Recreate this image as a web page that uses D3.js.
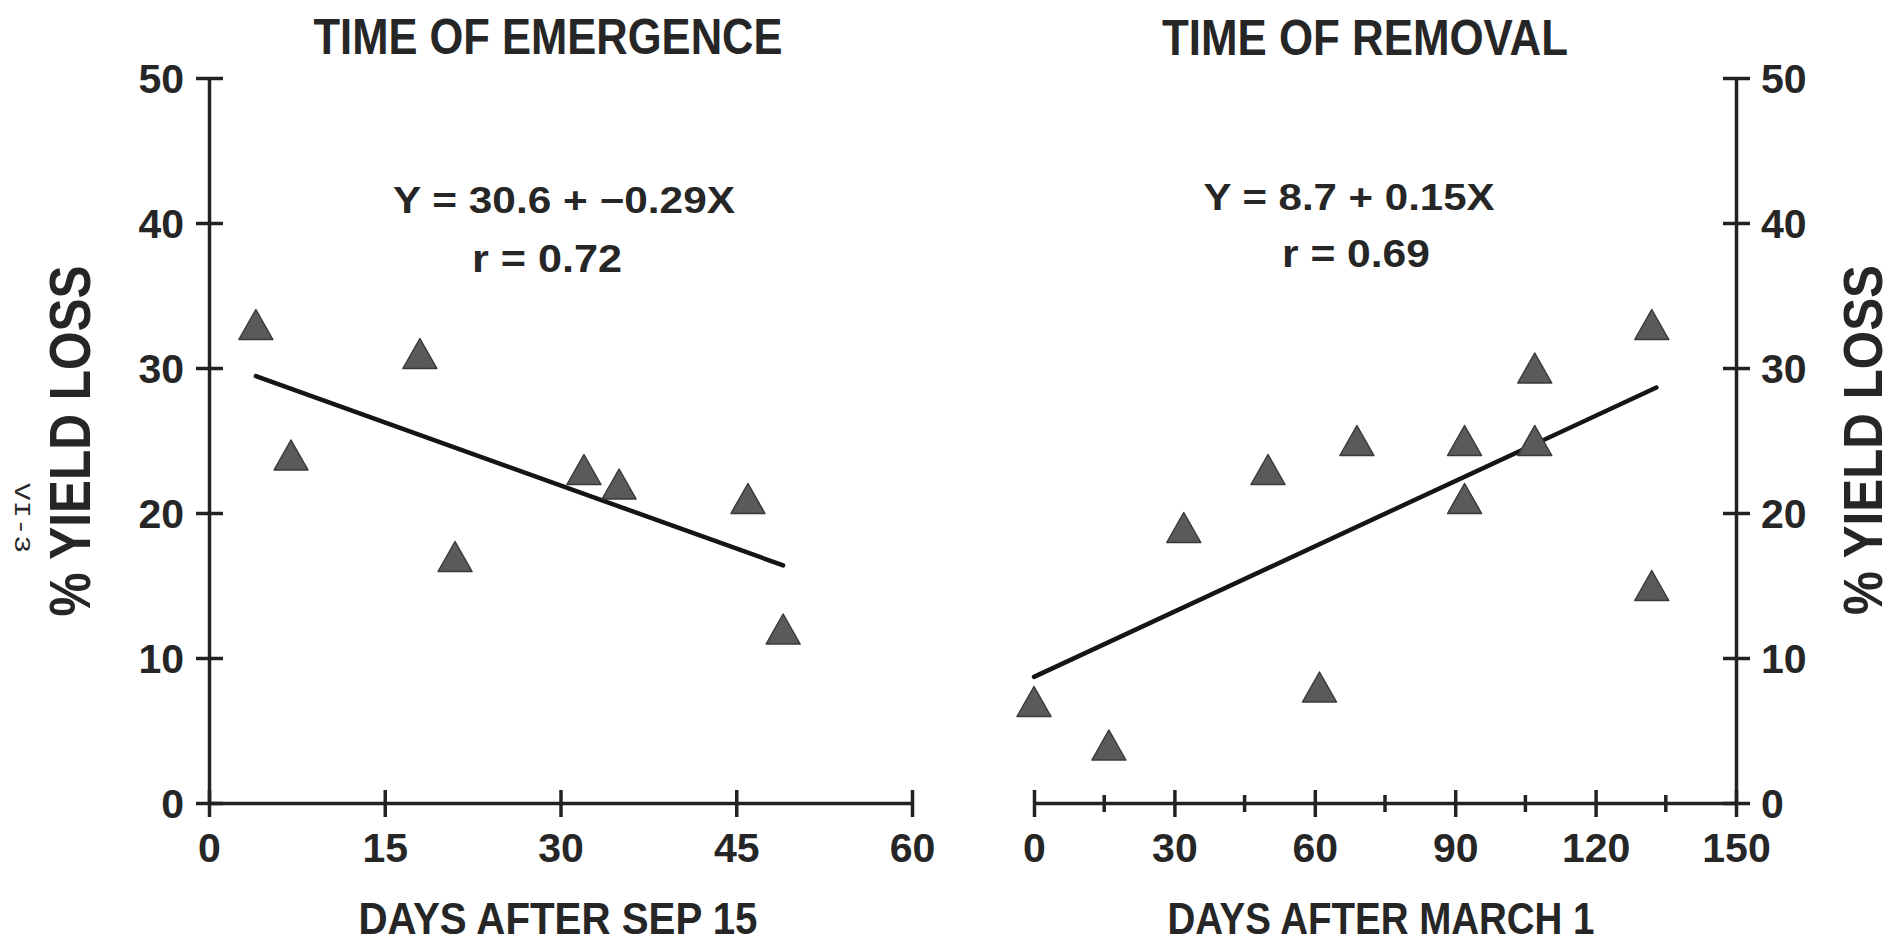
<!DOCTYPE html>
<html>
<head>
<meta charset="utf-8">
<script src="https://cdn.jsdelivr.net/npm/d3@7"></script>
<style>
  body { margin: 0; background: #fff; }
  text { font-family: "Liberation Sans", Arial, sans-serif; font-weight: bold; fill: #262626; }
</style>
</head>
<body>
<div id="chart"></div>
<script>
// time of emergence (days after sep 15) vs % yield loss
var emergDays = [4, 7, 18, 21, 32, 35, 46, 49];
var emergLoss = [33, 24, 31, 17, 23, 22, 21, 12];
// time of removal (days after march 1) vs % yield loss
var removDays = [0, 16, 32, 50, 61, 69, 92, 92, 107, 107, 132, 132];
var removLoss = [7, 4, 19, 23, 8, 25, 25, 21, 25, 30, 33, 15];

var leftTicks = [0, 15, 30, 45, 60];
var rightTicks = [0, 30, 60, 90, 120, 150];
var rightMinor = [15, 45, 75, 105, 135];
var yTicks = [0, 10, 20, 30, 40, 50];

// regression lines: intercept, slope, x range
var emergFit = {a: 30.6, b: -0.29, from: 4, to: 49};
var removFit = {a: 8.7, b: 0.15, from: 0, to: 133};

var W = 1897, H = 944;
var svg = d3.select("#chart").append("svg")
  .attr("width", W).attr("height", H);
svg.append("rect").attr("width", W).attr("height", H).attr("fill", "#fff");

var y = d3.scaleLinear().domain([0, 50]).range([803, 78]);
var xL = d3.scaleLinear().domain([0, 60]).range([209, 912]);
var xR = d3.scaleLinear().domain([0, 150]).range([1034, 1736]);

var ink = "#222";

function styleAxis(g) {
  g.select(".domain").attr("stroke", ink).attr("stroke-width", 3.5);
  g.selectAll(".tick line").attr("stroke", ink).attr("stroke-width", 3.5);
  g.selectAll(".tick text")
    .style("font-size", "41px")
    .style("font-family", "Liberation Sans, Arial, sans-serif")
    .style("font-weight", "bold")
    .attr("fill", "#262626");
}

// left y axis
var gyL = svg.append("g").attr("transform", "translate(" + xL(0) + ",0)")
  .call(d3.axisLeft(y).tickValues(yTicks).tickSize(13).tickSizeOuter(0).tickPadding(12));
styleAxis(gyL);
gyL.selectAll(".tick line").attr("x1", 14).attr("x2", -13);
gyL.selectAll(".tick text").attr("dy", "0.36em");

// left x axis
var gxL = svg.append("g").attr("transform", "translate(0," + y(0) + ")")
  .call(d3.axisBottom(xL).tickValues(leftTicks).tickSize(14).tickSizeOuter(0));
styleAxis(gxL);
gxL.selectAll(".tick line").attr("y1", -13).attr("y2", 14);
gxL.selectAll(".tick text").attr("y", 59).attr("dy", "0");

// right x axis
var gxR = svg.append("g").attr("transform", "translate(0," + y(0) + ")")
  .call(d3.axisBottom(xR).tickValues(rightTicks).tickSize(14).tickSizeOuter(0));
styleAxis(gxR);
gxR.selectAll(".tick line").attr("y1", -13).attr("y2", 14);
gxR.selectAll(".tick text").attr("y", 59).attr("dy", "0");
gxR.selectAll(".minor").data(rightMinor).enter().append("line")
  .attr("x1", function(d) { return xR(d); }).attr("x2", function(d) { return xR(d); })
  .attr("y1", -8).attr("y2", 9)
  .attr("stroke", ink).attr("stroke-width", 3.5);

// right y axis
var gyR = svg.append("g").attr("transform", "translate(" + xR(150) + ",0)")
  .call(d3.axisRight(y).tickValues(yTicks).tickSize(14).tickSizeOuter(0).tickPadding(11));
styleAxis(gyR);
gyR.selectAll(".tick line").attr("x1", -13).attr("x2", 14);
gyR.selectAll(".tick text").attr("dy", "0.36em");

// fitted lines
function fitLine(x, fit) {
  svg.append("line")
    .attr("x1", x(fit.from)).attr("y1", y(fit.a + fit.b * fit.from))
    .attr("x2", x(fit.to)).attr("y2", y(fit.a + fit.b * fit.to))
    .attr("stroke", "#151515").attr("stroke-width", 4.5).attr("stroke-linecap", "round");
}
fitLine(xL, emergFit);
fitLine(xR, removFit);

// triangle markers
var tri = "M0,-15L17,15L-17,15Z";
function points(x, xs, ys) {
  svg.append("g").selectAll("path")
    .data(xs.map(function(d, i) { return [d, ys[i]]; }))
    .enter().append("path")
      .attr("d", tri)
      .attr("transform", function(d) { return "translate(" + x(d[0]) + "," + y(d[1]) + ")"; })
      .attr("fill", "#5a5a5a")
      .attr("stroke", "#3a3a3a").attr("stroke-width", 1.5).attr("stroke-linejoin", "round");
}
points(xL, emergDays, emergLoss);
points(xR, removDays, removLoss);

// texts
function label(txt, x, yy, size, len, rot) {
  var t = svg.append("text").text(txt)
    .attr("text-anchor", "middle")
    .style("font-size", size + "px");
  if (len) t.attr("textLength", len).attr("lengthAdjust", "spacingAndGlyphs");
  if (rot) t.attr("transform", "translate(" + x + "," + yy + ") rotate(" + rot + ")");
  else t.attr("x", x).attr("y", yy);
  return t;
}
label("TIME OF EMERGENCE", 548, 54, 50, 469);
label("TIME OF REMOVAL", 1365, 55, 50, 406);
label("Y = 30.6 + \u22120.29X", 564, 213, 36, 342);
label("r = 0.72", 547, 272, 38, 150);
label("Y = 8.7 + 0.15X", 1349, 210, 36, 291);
label("r = 0.69", 1356, 267, 38, 148);
label("DAYS AFTER SEP 15", 558, 934, 44, 399);
label("DAYS AFTER MARCH 1", 1381, 934, 44, 427);
label("% YIELD LOSS", 90, 441, 58, 351, -90);
label("% YIELD LOSS", 1882, 440, 56, 350, -90);

// page number typed sideways
svg.append("text").text("VI-3")
  .attr("transform", "translate(15,518) rotate(90)")
  .attr("text-anchor", "middle")
  .style("font-family", "Liberation Mono, DejaVu Sans Mono, monospace")
  .style("font-weight", "normal")
  .style("font-size", "22px")
  .attr("textLength", 70).attr("lengthAdjust", "spacingAndGlyphs");
</script>
</body>
</html>
